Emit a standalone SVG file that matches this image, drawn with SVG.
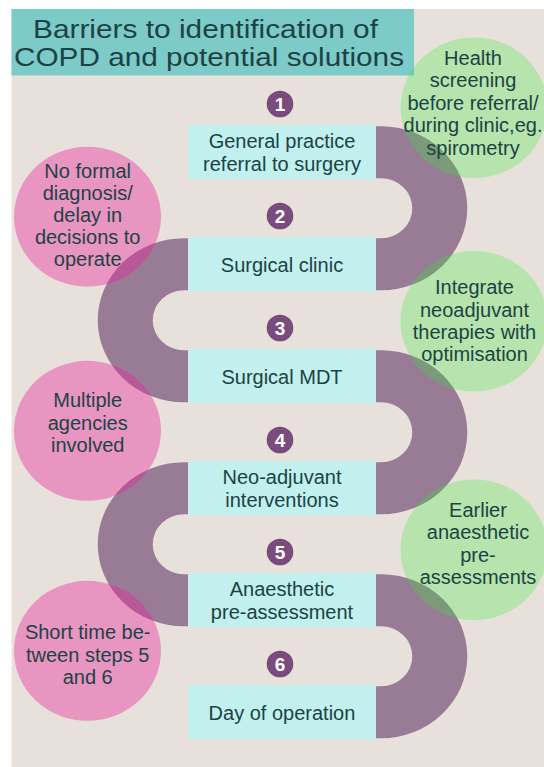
<svg xmlns="http://www.w3.org/2000/svg" width="544" height="767" viewBox="0 0 544 767">
<style>
text{font-family:"Liberation Sans",Arial,Helvetica,sans-serif;fill:#1c4344}
.title{font-size:25px}
.step{fill:#c1f0ee}
.st{font-size:20px;text-anchor:middle}
.band{fill:#987c96;stroke:none}
.num{fill:#7a4b7c}
.nt{font-size:19px;font-weight:bold;fill:#ffffff;text-anchor:middle}
.pink{fill:#e8249a;fill-opacity:0.4}
.green{fill:#28f028;fill-opacity:0.26}
.ct{font-size:20px;text-anchor:middle}
</style>
<rect x="0" y="0" width="544" height="767" fill="#ffffff"/>
<rect x="11.5" y="9" width="532.5" height="758" fill="#e8e1db"/>
<g id="title">
<rect x="11.5" y="9" width="402.5" height="66.5" fill="#7ccbc9"/>
<text class="title" x="33" y="37.5" textLength="345" lengthAdjust="spacingAndGlyphs">Barriers to identification of</text>
<text class="title" x="14" y="65.5" textLength="390" lengthAdjust="spacingAndGlyphs">COPD and potential solutions</text>
</g>
<g id="connectors">
<path class="band" d="M330 126.25 H381 A86.3 82 0 0 1 381 290.25 H330 V238.25 H381 A31.3 30 0 0 0 381 178.25 H330 Z"/>
<path class="band" d="M230 238.25 H184 A86.3 82 0 0 0 184 402.25 H230 V350.25 H184 A31.3 30 0 0 1 184 290.25 H230 Z"/>
<path class="band" d="M330 350.25 H381 A86.3 82 0 0 1 381 514.25 H330 V462.25 H381 A31.3 30 0 0 0 381 402.25 H330 Z"/>
<path class="band" d="M230 462.25 H184 A86.3 82 0 0 0 184 626.25 H230 V574.25 H184 A31.3 30 0 0 1 184 514.25 H230 Z"/>
<path class="band" d="M330 574.25 H381 A86.3 82 0 0 1 381 738.25 H330 V686.25 H381 A31.3 30 0 0 0 381 626.25 H330 Z"/>
</g>
<g id="step1">
<rect class="step" x="188" y="125" width="188" height="54.5"/>
<circle class="num" cx="280" cy="104" r="13.3"/>
<text class="nt" x="280" y="110.5">1</text>
<text class="st" x="282" y="148">General practice</text>
<text class="st" x="282" y="170.5">referral to surgery</text>
</g>
<g id="step2">
<rect class="step" x="188" y="237" width="188" height="54.5"/>
<circle class="num" cx="280" cy="216" r="13.3"/>
<text class="nt" x="280" y="222.5">2</text>
<text class="st" x="282" y="271.7">Surgical clinic</text>
</g>
<g id="step3">
<rect class="step" x="188" y="349" width="188" height="54.5"/>
<circle class="num" cx="280" cy="328" r="13.3"/>
<text class="nt" x="280" y="334.5">3</text>
<text class="st" x="282" y="383.7">Surgical MDT</text>
</g>
<g id="step4">
<rect class="step" x="188" y="461" width="188" height="54.5"/>
<circle class="num" cx="280" cy="440" r="13.3"/>
<text class="nt" x="280" y="446.5">4</text>
<text class="st" x="282" y="484">Neo-adjuvant</text>
<text class="st" x="282" y="506.5">interventions</text>
</g>
<g id="step5">
<rect class="step" x="188" y="573" width="188" height="54.5"/>
<circle class="num" cx="280" cy="552" r="13.3"/>
<text class="nt" x="280" y="558.5">5</text>
<text class="st" x="282" y="596">Anaesthetic</text>
<text class="st" x="282" y="618.5">pre-assessment</text>
</g>
<g id="step6">
<rect class="step" x="188" y="685" width="188" height="54.5"/>
<circle class="num" cx="280" cy="664" r="13.3"/>
<text class="nt" x="280" y="670.5">6</text>
<text class="st" x="282" y="719.7">Day of operation</text>
</g>
<g id="barrier1">
<ellipse class="pink" cx="87.5" cy="216.7" rx="73.5" ry="70"/>
<text class="ct" x="87.7" y="178.3">No formal</text>
<text class="ct" x="87.7" y="200.3">diagnosis/</text>
<text class="ct" x="87.7" y="222.3">delay in</text>
<text class="ct" x="87.7" y="244.3">decisions to</text>
<text class="ct" x="87.7" y="266.3">operate</text>
</g>
<g id="barrier2">
<ellipse class="pink" cx="87.5" cy="430.8" rx="73.5" ry="70"/>
<text class="ct" x="87.7" y="407.3">Multiple</text>
<text class="ct" x="87.7" y="429.5">agencies</text>
<text class="ct" x="87.7" y="451.7">involved</text>
</g>
<g id="barrier3">
<ellipse class="pink" cx="87.5" cy="650.8" rx="73.5" ry="70"/>
<text class="ct" x="87.7" y="639.3">Short time be-</text>
<text class="ct" x="87.7" y="661.7">tween steps 5</text>
<text class="ct" x="87.7" y="684">and 6</text>
</g>
<g id="solution1">
<ellipse class="green" cx="474" cy="107.7" rx="73.5" ry="70.3"/>
<text class="ct" x="473" y="64.5">Health</text>
<text class="ct" x="473" y="87">screening</text>
<text class="ct" x="473" y="109.5">before referral/</text>
<text class="ct" x="473" y="132">during clinic,eg.</text>
<text class="ct" x="473" y="154.5">spirometry</text>
</g>
<g id="solution2">
<ellipse class="green" cx="474" cy="321.2" rx="73.5" ry="70.3"/>
<text class="ct" x="474.5" y="294">Integrate</text>
<text class="ct" x="474.5" y="316.5">neoadjuvant</text>
<text class="ct" x="474.5" y="339">therapies with</text>
<text class="ct" x="474.5" y="361">optimisation</text>
</g>
<g id="solution3">
<ellipse class="green" cx="474" cy="549.7" rx="73.5" ry="70.3"/>
<text class="ct" x="478" y="516.7">Earlier</text>
<text class="ct" x="478" y="539">anaesthetic</text>
<text class="ct" x="478" y="561.5">pre-</text>
<text class="ct" x="478" y="583.5">assessments</text>
</g>
</svg>
